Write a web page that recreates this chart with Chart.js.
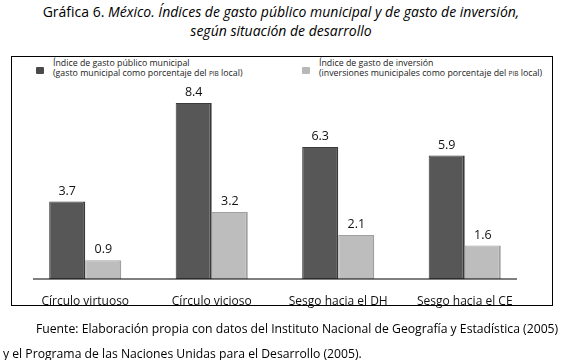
<!DOCTYPE html>
<html>
<head>
<meta charset="utf-8">
<script src="https://cdn.jsdelivr.net/npm/chart.js@4"></script>
<style>
  body { margin: 0; width: 562px; height: 360px; position: relative; background: #fff;
         font-family: 'Open Sans', sans-serif; color: #111; overflow: hidden; }
  #title { position: absolute; top: 2px; left: 0; width: 562px; text-align: center;
           font-size: 14px; line-height: 19px; color: #000; }
  #box { position: absolute; left: 11px; top: 56px; width: 542px; height: 250px;
         border: 1.5px solid #000; box-sizing: border-box; }
  .leg { position: absolute; font-size: 8.8px; line-height: 10px; color: #222; white-space: nowrap; }
  .sw { position: absolute; width: 8px; height: 7px; border-radius: 1px; }
  .sc { font-size: 6.5px; }
  #myChart { position: absolute; left: 0; top: 0; }
  #foot { position: absolute; left: 0; top: 316px; width: 600px; font-size: 12.2px; line-height: 25px;
          color: #000; white-space: nowrap; }
</style>
</head>
<body>
<div id="title">Gráfica 6. <i>México. Índices de gasto público municipal y de gasto de inversión,<br>según situación de desarrollo</i></div>
<div id="box"></div>
<div class="sw" style="left:36px;top:67px;background:#4a4a4a;"></div>
<div class="leg" style="left:53px;top:58px;">Índice de gasto público municipal<br>(gasto municipal como porcentaje del <span class="sc">PIB</span> local)</div>
<div class="sw" style="left:302px;top:67px;background:#b8b8b8;"></div>
<div class="leg" style="left:319px;top:58px;">Índice de gasto de inversión<br>(inversiones municipales como porcentaje del <span class="sc">PIB</span> local)</div>
<canvas id="myChart" width="562" height="360"></canvas>
<div id="foot"><span style="padding-left:36px">Fuente: Elaboración propia con datos del Instituto Nacional de Geografía y Estadística (2005)</span><br><span style="padding-left:3px">y el Programa de las Naciones Unidas para el Desarrollo (2005).</span></div>
<script>
var categories = ['Círculo virtuoso', 'Círculo vicioso', 'Sesgo hacia el DH', 'Sesgo hacia el CE'];
var gastoMunicipal = [3.7, 8.4, 6.3, 5.9];
var gastoInversion = [0.9, 3.2, 2.1, 1.6];

Chart.defaults.font.family = "'Open Sans', sans-serif";
Chart.defaults.color = '#111';

var extras = {
  id: 'extras',
  afterDatasetsDraw: function(chart) {
    var c = chart.ctx;
    var y0 = chart.scales.y.getPixelForValue(0);
    c.save();
    // base line
    c.strokeStyle = '#000';
    c.lineWidth = 1.2;
    c.beginPath();
    c.moveTo(33, y0);
    c.lineTo(517, y0);
    c.stroke();
    // value labels
    c.fillStyle = '#111';
    c.font = "12.5px 'Open Sans', sans-serif";
    c.textAlign = 'center';
    c.textBaseline = 'bottom';
    chart.data.datasets.forEach(function(ds, i) {
      chart.getDatasetMeta(i).data.forEach(function(bar, j) {
        c.fillText(ds.data[j].toFixed(1), bar.x, bar.y - 4);
      });
    });
    c.restore();
  }
};

var ctx = document.getElementById('myChart').getContext('2d');
var myChart = new Chart(ctx, {
  type: 'bar',
  data: {
    labels: categories,
    datasets: [{
      label: 'Índice de gasto público municipal',
      data: gastoMunicipal,
      backgroundColor: '#575757',
      borderColor: '#3a3a3a',
      borderWidth: {top: 1, right: 2, left: 1, bottom: 0},
      borderSkipped: false
    }, {
      label: 'Índice de gasto de inversión',
      data: gastoInversion,
      backgroundColor: '#bdbdbd',
      borderColor: '#a0a0a0',
      borderWidth: {top: 1, right: 2, left: 1, bottom: 0},
      borderSkipped: false
    }]
  },
  options: {
    responsive: false,
    animation: false,
    layout: { padding: {left: 22, right: 34, top: 80, bottom: 51} },
    plugins: {
      legend: { display: false },
      tooltip: { enabled: false }
    },
    datasets: {
      bar: { barPercentage: 1, categoryPercentage: 0.57 }
    },
    scales: {
      x: {
        grid: { display: false },
        border: { display: false },
        ticks: { font: { size: 12 }, padding: 7, color: '#111' },
        afterFit: function(s) { s.height = 30; }
      },
      y: {
        display: false,
        min: 0,
        max: 9.5
      }
    }
  },
  plugins: [extras]
});
</script>
</body>
</html>
